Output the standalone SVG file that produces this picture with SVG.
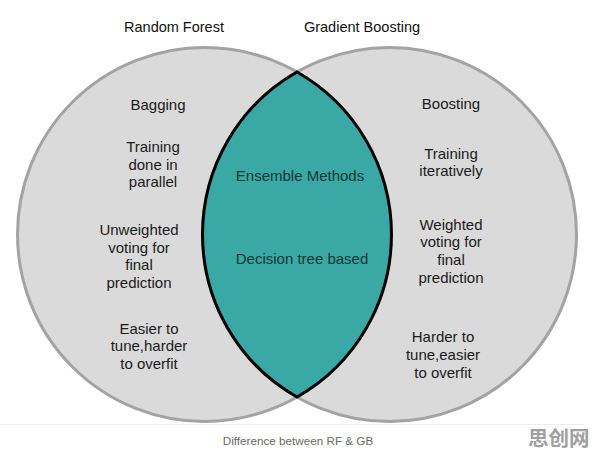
<svg xmlns="http://www.w3.org/2000/svg" width="596" height="456" viewBox="0 0 596 456">
<style>
.circ{fill:#dadada;stroke:#a3a3a3;stroke-width:3}
.lens{fill:#3aa8a4;stroke:#000;stroke-width:3;stroke-linejoin:miter}
.t{font-family:"Liberation Sans",Arial,sans-serif;font-size:15px;fill:#1a1a1a;text-anchor:middle}
.title{font-family:"Liberation Sans",Arial,sans-serif;font-size:14.5px;fill:#111;text-anchor:middle}
.lt{font-family:"Liberation Sans",Arial,sans-serif;font-size:15px;fill:#0f3836;text-anchor:middle}
.cap{font-family:"Liberation Sans",Arial,sans-serif;font-size:11.7px;fill:#6a6a6a;text-anchor:middle}
.wm{font-family:"Noto Sans CJK SC",sans-serif;font-size:20.5px;font-weight:bold;fill:#a0a0a0}
</style>
<rect width="596" height="456" fill="#fff"/>
<g id="random-forest">
<circle class="circ" cx="204.5" cy="234.5" r="187"/>
</g>
<g id="gradient-boosting">
<circle class="circ" cx="389.5" cy="234.5" r="187"/>
</g>
<g id="intersection">
<path class="lens" d="M297,72 A187,187 0 0,1 297,397 A187,187 0 0,1 297,72 Z"/>
<text class="lt" x="300" y="181">Ensemble Methods</text>
<text class="lt" x="302" y="264">Decision tree based</text>
</g>
<g id="titles">
<text class="title" x="174" y="32">Random Forest</text>
<text class="title" x="362" y="32">Gradient Boosting</text>
</g>
<g id="rf-items">
<text class="t" x="158" y="110">Bagging</text>
<text class="t" x="153" y="152">Training</text>
<text class="t" x="153" y="169.5">done in</text>
<text class="t" x="153" y="187">parallel</text>
<text class="t" x="139" y="235">Unweighted</text>
<text class="t" x="139" y="252.5">voting for</text>
<text class="t" x="139" y="270">final</text>
<text class="t" x="139" y="288">prediction</text>
<text class="t" x="149" y="333.5">Easier to</text>
<text class="t" x="149" y="351">tune,harder</text>
<text class="t" x="149" y="368.5">to overfit</text>
</g>
<g id="gb-items">
<text class="t" x="451" y="108.5">Boosting</text>
<text class="t" x="451" y="158.5">Training</text>
<text class="t" x="451" y="176">iteratively</text>
<text class="t" x="451" y="229.5">Weighted</text>
<text class="t" x="451" y="247">voting for</text>
<text class="t" x="451" y="265">final</text>
<text class="t" x="451" y="282.5">prediction</text>
<text class="t" x="443" y="342">Harder to</text>
<text class="t" x="443" y="360">tune,easier</text>
<text class="t" x="443" y="377.5">to overfit</text>
</g>
<g id="connectors"></g>
<line x1="0" y1="424.5" x2="584" y2="424.5" stroke="#ececec" stroke-width="1"/>
<text class="cap" x="298" y="445">Difference between RF &amp; GB</text>
<text class="wm" x="528" y="446">思创网</text>
</svg>
